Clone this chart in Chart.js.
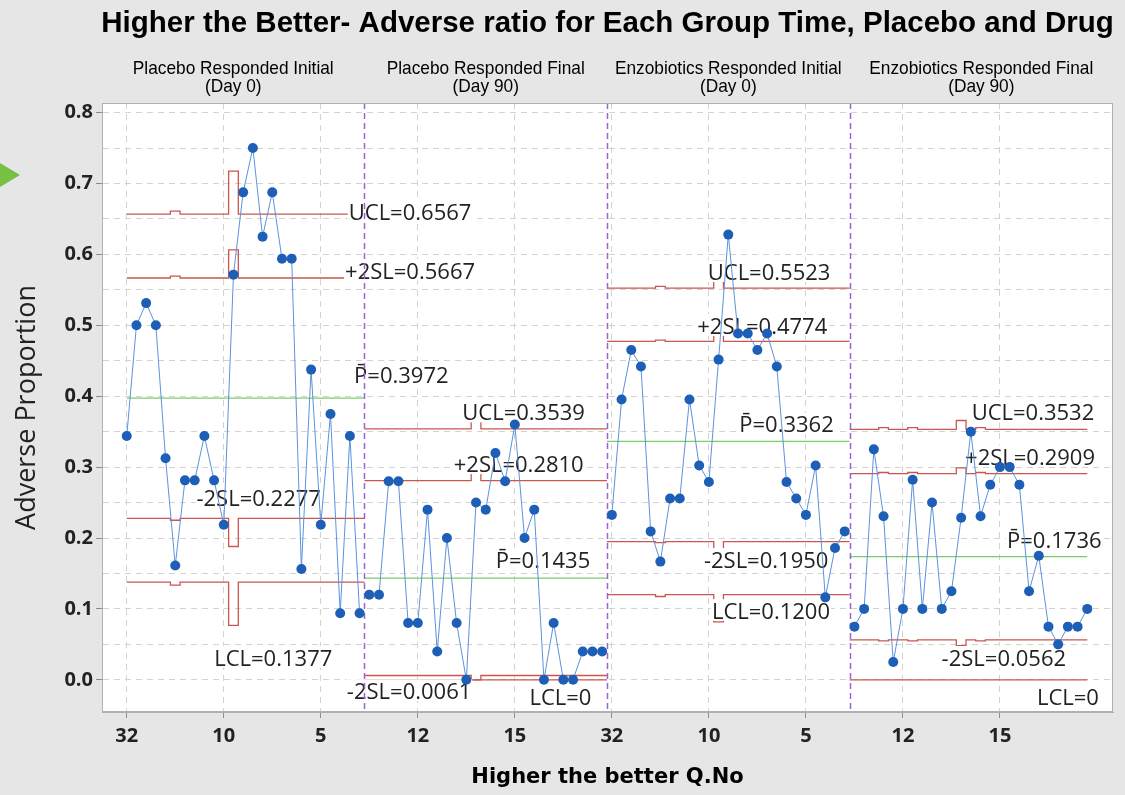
<!DOCTYPE html>
<html>
<head>
<meta charset="utf-8">
<script src="https://cdn.jsdelivr.net/npm/chart.js@4.4.1/dist/chart.umd.min.js"></script>
<style>
  body { margin: 0; background: #e6e6e6; }
  canvas { display: block; }
</style>
</head>
<body>
<canvas id="pchart" width="1125" height="795"></canvas>
<script>
// stages (groups) shown side by side
const stageNames = ["Placebo Responded Initial", "Placebo Responded Final", "Enzobiotics Responded Initial", "Enzobiotics Responded Final"];
const stageDays = ["(Day 0)", "(Day 90)", "(Day 0)", "(Day 90)"];

// adverse proportion per question, one list per stage
const placeboInitial = [0.3438, 0.5, 0.5313, 0.5, 0.3125, 0.1613, 0.2813, 0.2813, 0.3438, 0.2813, 0.2188, 0.5714, 0.6875, 0.75, 0.625, 0.6875, 0.5938, 0.5938, 0.1563, 0.4375, 0.2188, 0.375, 0.0938, 0.3438, 0.0938];
const placeboFinal = [0.12, 0.12, 0.28, 0.28, 0.08, 0.08, 0.24, 0.04, 0.2, 0.08, 0, 0.25, 0.24, 0.32, 0.28, 0.36, 0.2, 0.24, 0, 0.08, 0, 0, 0.04, 0.04, 0.04];
const enzoInitial = [0.2326, 0.3953, 0.4651, 0.4419, 0.2093, 0.1667, 0.2558, 0.2558, 0.3953, 0.3023, 0.2791, 0.4516, 0.6279, 0.4884, 0.4884, 0.4651, 0.4884, 0.4419, 0.2791, 0.2558, 0.2326, 0.3023, 0.1163, 0.186, 0.2093];
const enzoFinal = [0.075, 0.1, 0.325, 0.2308, 0.025, 0.1, 0.2821, 0.1, 0.25, 0.1, 0.125, 0.2286, 0.35, 0.2308, 0.275, 0.3, 0.3, 0.275, 0.125, 0.175, 0.075, 0.05, 0.075, 0.075, 0.1];

// x tick labels (Q.No), one every 10 points
const tickLabels = ["32", "10", "5", "12", "15", "32", "10", "5", "12", "15"];

// control limits per stage
const uclValues = [0.6567, 0.3539, 0.5523, 0.3532];
const plus2slValues = [0.5667, 0.2810, 0.4774, 0.2909];
const pbarValues = [0.3972, 0.1435, 0.3362, 0.1736];
const minus2slValues = [0.2277, 0.0061, 0.1950, 0.0562];
const lclValues = [0.1377, 0, 0.1200, 0];

// points with a different sample size: [stage, point, UCL, +2SL, -2SL, LCL]
const limitSteps = [
  [0, 5, 0.6609, 0.5694, 0.2250, 0.1335],
  [0, 11, 0.7175, 0.6064, 0.1880, 0.0769],
  [1, 11, 0.3787, 0.2972, 0, 0],
  [2, 5, 0.5549, 0.4790, 0.1934, 0.1175],
  [2, 11, 0.5907, 0.5025, 0.1699, 0.0817],
  [3, 3, 0.3556, 0.2924, 0.0548, 0],
  [3, 6, 0.3556, 0.2924, 0.0548, 0],
  [3, 11, 0.3657, 0.2990, 0.0482, 0],
  [3, 13, 0.3556, 0.2924, 0.0548, 0]
];

const stageSeries = [placeboInitial, placeboFinal, enzoInitial, enzoFinal];
const totalPoints = stageSeries.reduce((n, s) => n + s.length, 0);

// where the limit labels sit: [x index, y value] for UCL, +2SL, Pbar, -2SL, LCL
const labelSpots = [
  [[29.2, 0.660], [29.2, 0.577], [28.3, 0.430], [13.6, 0.256], [15.1, 0.031]],
  [[40.9, 0.377], [40.4, 0.304], [42.9, 0.169], [29.1, -0.016], [44.7, -0.024]],
  [[66.2, 0.575], [65.5, 0.499], [68.0, 0.360], [65.9, 0.169], [66.4, 0.097]],
  [[93.4, 0.377], [93.1, 0.314], [95.6, 0.197], [90.4, 0.031], [97.0, -0.024]]
];

const limitKinds = [
  { name: "UCL", base: uclValues, col: 2 },
  { name: "+2SL", base: plus2slValues, col: 3 },
  { name: "P\u0304", base: pbarValues, col: -1 },
  { name: "-2SL", base: minus2slValues, col: 4 },
  { name: "LCL", base: lclValues, col: 5 }
];

function stageStart(s) {
  let n = 0;
  for (let i = 0; i < s; i++) n += stageSeries[i].length;
  return n;
}

function limitAt(kind, s, i) {
  if (kind.col > 0) {
    const hit = limitSteps.find(r => r[0] === s && r[1] === i);
    if (hit) return hit[kind.col];
  }
  return kind.base[s];
}

function limitPoints(kind) {
  const pts = [];
  stageSeries.forEach((vals, s) => {
    const first = stageStart(s);
    vals.forEach((_, i) => {
      pts.push({ x: Math.max(first + i - 0.5, 0), y: limitAt(kind, s, i) });
    });
    const lastX = Math.min(first + vals.length - 0.5, totalPoints - 1);
    pts.push({ x: lastX, y: limitAt(kind, s, vals.length - 1) });
    pts.push({ x: lastX, y: null });
  });
  return pts;
}

const fmt = v => (v === 0 ? "0" : v.toFixed(4));

const pointSets = stageSeries.map((vals, s) => ({
  data: vals.map((v, i) => ({ x: stageStart(s) + i, y: v })),
  borderColor: "#5b93dc",
  borderWidth: 1,
  pointRadius: 5,
  pointBackgroundColor: "#1d5fb6",
  pointBorderColor: "#1d5fb6",
  pointBorderWidth: 0
}));

const limitSets = limitKinds.map(k => ({
  data: limitPoints(k),
  stepped: "before",
  borderColor: k.col < 0 ? "#79cf6a" : "#c9574f",
  borderWidth: 1.3,
  pointRadius: 0,
  spanGaps: false
}));

const decor = {
  id: "decor",
  beforeDraw(chart) {
    const { ctx, chartArea: a } = chart;
    ctx.save();
    ctx.fillStyle = "#e6e6e6";
    ctx.fillRect(0, 0, chart.width, chart.height);
    ctx.fillStyle = "#ffffff";
    ctx.fillRect(a.left, a.top, a.right - a.left, a.bottom - a.top);
    ctx.restore();
  },
  beforeDatasetDraw(chart, args) {
    if (args.index !== pointSets.length - 1) return;
    const { ctx, chartArea: a, scales: { x, y } } = chart;
    ctx.save();
    // limit labels, with white boxes like the original
    const size = 22;
    const capH = size * 0.714;
    ctx.font = size + "px 'Open Sans'";
    ctx.textAlign = "center";
    ctx.textBaseline = "alphabetic";
    stageSeries.forEach((_, s) => {
      limitKinds.forEach((k, j) => {
        const txt = k.name + "=" + fmt(k.base[s]);
        const cx = x.getPixelForValue(labelSpots[s][j][0]);
        const cy = y.getPixelForValue(labelSpots[s][j][1]);
        const w = ctx.measureText(txt).width;
        ctx.fillStyle = "#ffffff";
        ctx.fillRect(cx - w / 2 - 1, cy - capH / 2 - 4, w + 2, capH + 6);
        ctx.fillStyle = "#222222";
        ctx.fillText(txt, cx, cy + capH / 2);
      });
    });
    // stage dividers
    ctx.strokeStyle = "#9b63d8";
    ctx.lineWidth = 1.5;
    ctx.setLineDash([6, 4]);
    for (let s = 1; s < stageSeries.length; s++) {
      const px = Math.round(x.getPixelForValue(stageStart(s) - 0.5)) + 0.5;
      ctx.beginPath();
      ctx.moveTo(px, a.top);
      ctx.lineTo(px, a.bottom);
      ctx.stroke();
    }
    ctx.restore();
  },
  afterDraw(chart) {
    const { ctx, chartArea: a, scales: { x } } = chart;
    ctx.save();
    ctx.strokeStyle = "#b0b0b0";
    ctx.lineWidth = 1;
    ctx.strokeRect(a.left + 0.5, a.top + 0.5, a.right - a.left - 1, a.bottom - a.top - 1);

    ctx.fillStyle = "#000000";
    ctx.textAlign = "center";
    ctx.textBaseline = "middle";
    ctx.font = "bold 29.5px 'Liberation Sans'";
    ctx.fillText("Higher the Better- Adverse ratio for Each Group Time, Placebo and Drug", (a.left + a.right) / 2, 24);

    // stage headers in a narrow face
    ctx.font = "19px 'Liberation Sans'";
    const squeeze = 0.91;
    stageSeries.forEach((vals, s) => {
      const l = s === 0 ? a.left : x.getPixelForValue(stageStart(s) - 0.5);
      const r = s === stageSeries.length - 1 ? a.right : x.getPixelForValue(stageStart(s) + vals.length - 0.5);
      ctx.save();
      ctx.translate((l + r) / 2, 0);
      ctx.scale(squeeze, 1);
      ctx.fillText(stageNames[s], 0, 69);
      ctx.fillText(stageDays[s], 0, 87);
      ctx.restore();
    });

    // green marker at the left edge of the page
    ctx.fillStyle = "#78c043";
    ctx.beginPath();
    ctx.moveTo(0, 163);
    ctx.lineTo(20, 175);
    ctx.lineTo(0, 187);
    ctx.closePath();
    ctx.fill();
    ctx.restore();
  }
};

const yTickValues = [];
for (let i = 0; i <= 16; i++) yTickValues.push(i / 20);

new Chart(document.getElementById("pchart"), {
  type: "line",
  data: { datasets: [...pointSets, ...limitSets] },
  options: {
    responsive: false,
    devicePixelRatio: 1,
    animation: false,
    layout: { padding: { top: 103, right: 12, bottom: 0, left: 0 } },
    plugins: { legend: { display: false }, tooltip: { enabled: false } },
    scales: {
      x: {
        type: "linear",
        min: -2.55,
        max: 101.65,
        afterBuildTicks: s => { s.ticks = tickLabels.map((_, i) => ({ value: i * 10 })); },
        afterFit: s => { s.height = 83; },
        ticks: {
          autoSkip: false,
          maxRotation: 0,
          padding: 6,
          color: "#222222",
          font: { family: "'Open Sans'", size: 20, weight: "bold" },
          callback: v => tickLabels[Math.round(v / 10)]
        },
        grid: { color: "#d2d2d2", tickLength: 6, tickColor: "#8c8c8c" },
        border: { color: "#b0b0b0", dash: [6, 5] },
        title: {
          display: true,
          text: "Higher the better Q.No",
          color: "#000000",
          font: { family: "'DejaVu Sans'", size: 21, weight: "bold" },
          padding: { top: 0, bottom: 5 }
        }
      },
      y: {
        min: -0.0454,
        max: 0.8135,
        afterBuildTicks: s => { s.ticks = yTickValues.map(v => ({ value: v })); },
        afterFit: s => { s.width = 102; },
        ticks: {
          autoSkip: false,
          padding: 3,
          color: "#222222",
          font: { family: "'Open Sans'", size: 20, weight: "bold" },
          callback: v => (Math.round(v * 20) % 2 === 0 ? v.toFixed(1) : "")
        },
        grid: {
          color: "#d2d2d2",
          tickLength: 6,
          tickColor: c => (Math.round(c.tick.value * 20) % 2 === 0 ? "#8c8c8c" : "rgba(0,0,0,0)")
        },
        border: { color: "#b0b0b0", dash: [6, 5] },
        title: {
          display: true,
          text: "Adverse Proportion",
          color: "#222222",
          font: { family: "'Open Sans'", size: 27 },
          padding: { top: 11, bottom: 0 }
        }
      }
    }
  },
  plugins: [decor]
});
</script>
</body>
</html>
